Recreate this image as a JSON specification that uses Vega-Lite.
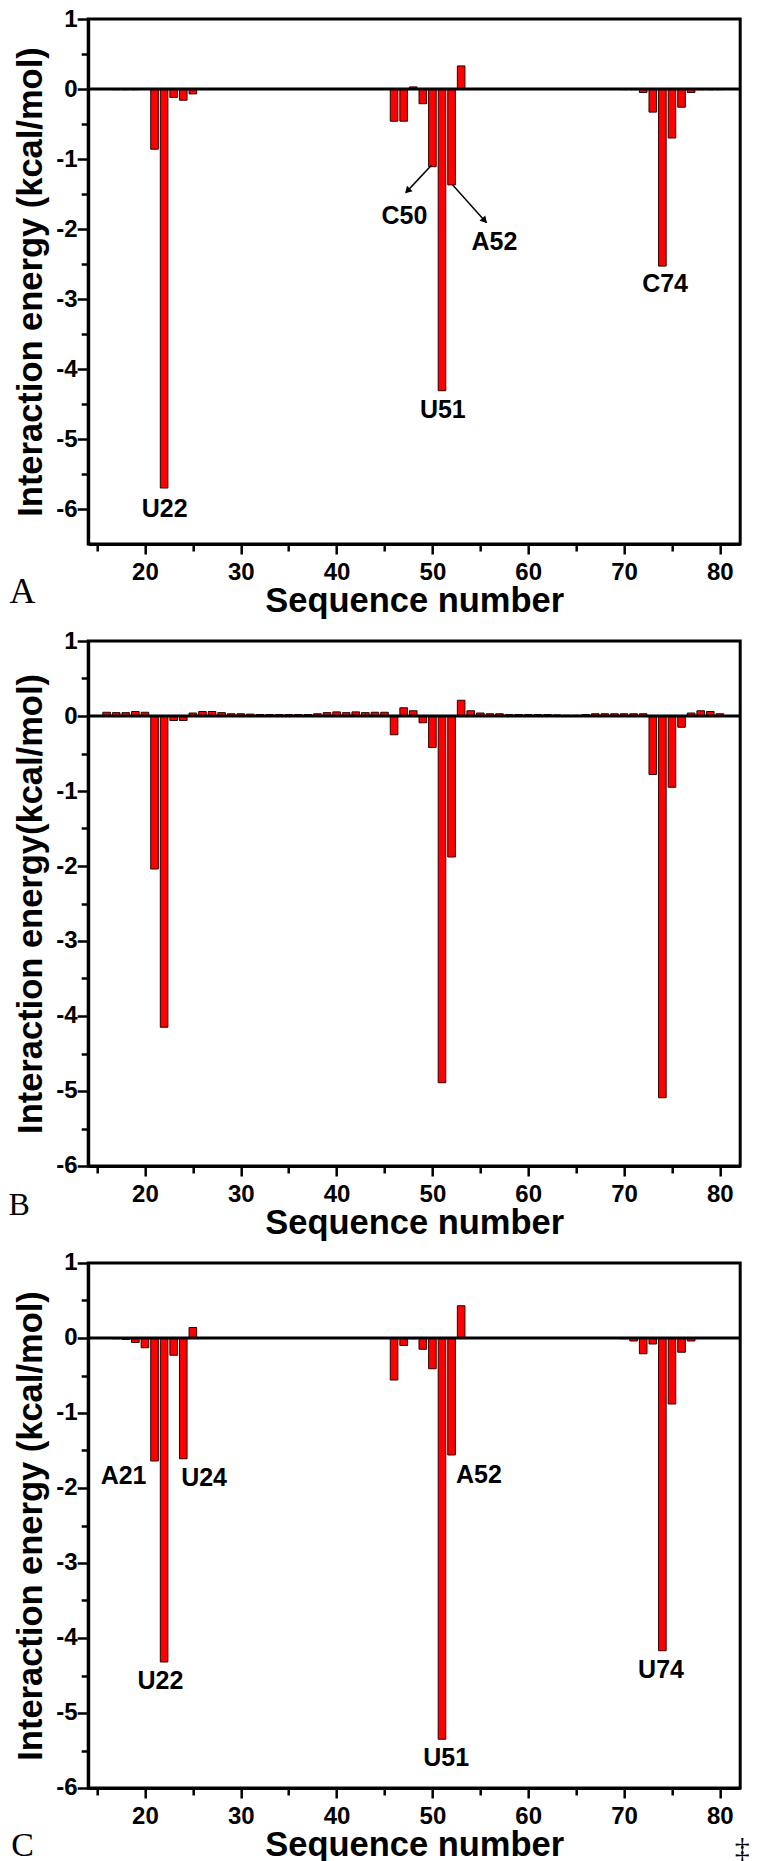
{
  "$schema": "https://vega.github.io/schema/vega-lite/v6.json",
  "background": "white",
  "padding": {"left": 6.2, "top": 5, "right": 5, "bottom": 5},
  "spacing": 7,
  "config": {
    "view": {"stroke": "black", "strokeWidth": 3},
    "axis": {
      "domainColor": "black", "domainWidth": 3,
      "tickColor": "black", "tickWidth": 2.5,
      "labelFont": "Liberation Sans", "labelFontWeight": "bold", "labelFontSize": 24, "labelColor": "black",
      "titleFont": "Liberation Sans", "titleFontWeight": "bold", "titleFontSize": 34.5, "titleColor": "black",
      "grid": false, "labelOverlap": false, "labelFlush": false, "labelBound": false
    }
  },
  "datasets": {
    "barsA": [
      {"seq": 17, "energy": -0.01}, {"seq": 18, "energy": -0.01}, {"seq": 19, "energy": -0.01},
      {"seq": 21, "energy": -0.86}, {"seq": 22, "energy": -5.70}, {"seq": 23, "energy": -0.12},
      {"seq": 24, "energy": -0.16}, {"seq": 25, "energy": -0.07},
      {"seq": 46, "energy": -0.46}, {"seq": 47, "energy": -0.46}, {"seq": 48, "energy": 0.03},
      {"seq": 49, "energy": -0.21}, {"seq": 50, "energy": -1.11}, {"seq": 51, "energy": -4.31},
      {"seq": 52, "energy": -1.37}, {"seq": 53, "energy": 0.33},
      {"seq": 70, "energy": -0.01}, {"seq": 71, "energy": -0.01}, {"seq": 72, "energy": -0.05},
      {"seq": 73, "energy": -0.33}, {"seq": 74, "energy": -2.53}, {"seq": 75, "energy": -0.70},
      {"seq": 76, "energy": -0.26}, {"seq": 77, "energy": -0.05}, {"seq": 78, "energy": -0.01},
      {"seq": 79, "energy": -0.01}, {"seq": 80, "energy": -0.01}
    ],
    "barsB": [
      {"seq": 16, "energy": 0.05}, {"seq": 17, "energy": 0.045}, {"seq": 18, "energy": 0.045},
      {"seq": 19, "energy": 0.06}, {"seq": 20, "energy": 0.05}, {"seq": 21, "energy": -2.04},
      {"seq": 22, "energy": -4.15}, {"seq": 23, "energy": -0.06}, {"seq": 24, "energy": -0.06},
      {"seq": 25, "energy": 0.04}, {"seq": 26, "energy": 0.06}, {"seq": 27, "energy": 0.06},
      {"seq": 28, "energy": 0.045}, {"seq": 29, "energy": 0.03}, {"seq": 30, "energy": 0.03},
      {"seq": 31, "energy": 0.025}, {"seq": 32, "energy": 0.02}, {"seq": 33, "energy": 0.02},
      {"seq": 34, "energy": 0.02}, {"seq": 35, "energy": 0.02}, {"seq": 36, "energy": 0.02},
      {"seq": 37, "energy": 0.02}, {"seq": 38, "energy": 0.03}, {"seq": 39, "energy": 0.045},
      {"seq": 40, "energy": 0.055}, {"seq": 41, "energy": 0.045}, {"seq": 42, "energy": 0.055},
      {"seq": 43, "energy": 0.045}, {"seq": 44, "energy": 0.05}, {"seq": 45, "energy": 0.05},
      {"seq": 46, "energy": -0.25}, {"seq": 47, "energy": 0.11}, {"seq": 48, "energy": 0.07},
      {"seq": 49, "energy": -0.09}, {"seq": 50, "energy": -0.42}, {"seq": 51, "energy": -4.89},
      {"seq": 52, "energy": -1.88}, {"seq": 53, "energy": 0.21}, {"seq": 54, "energy": 0.07},
      {"seq": 55, "energy": 0.04}, {"seq": 56, "energy": 0.03}, {"seq": 57, "energy": 0.03},
      {"seq": 58, "energy": 0.02}, {"seq": 59, "energy": 0.02}, {"seq": 60, "energy": 0.02},
      {"seq": 61, "energy": 0.02}, {"seq": 62, "energy": 0.02}, {"seq": 63, "energy": 0.015},
      {"seq": 64, "energy": 0.01}, {"seq": 65, "energy": 0.01}, {"seq": 66, "energy": 0.02},
      {"seq": 67, "energy": 0.03}, {"seq": 68, "energy": 0.03}, {"seq": 69, "energy": 0.03},
      {"seq": 70, "energy": 0.03}, {"seq": 71, "energy": 0.03}, {"seq": 72, "energy": 0.03},
      {"seq": 73, "energy": -0.78}, {"seq": 74, "energy": -5.09}, {"seq": 75, "energy": -0.95},
      {"seq": 76, "energy": -0.15}, {"seq": 77, "energy": 0.04}, {"seq": 78, "energy": 0.07},
      {"seq": 79, "energy": 0.06}, {"seq": 80, "energy": 0.03}
    ],
    "barsC": [
      {"seq": 17, "energy": -0.01}, {"seq": 18, "energy": -0.02}, {"seq": 19, "energy": -0.06},
      {"seq": 20, "energy": -0.13}, {"seq": 21, "energy": -1.64}, {"seq": 22, "energy": -4.32},
      {"seq": 23, "energy": -0.23}, {"seq": 24, "energy": -1.61}, {"seq": 25, "energy": 0.14},
      {"seq": 46, "energy": -0.56}, {"seq": 47, "energy": -0.10}, {"seq": 48, "energy": -0.01},
      {"seq": 49, "energy": -0.15}, {"seq": 50, "energy": -0.41}, {"seq": 51, "energy": -5.35},
      {"seq": 52, "energy": -1.56}, {"seq": 53, "energy": 0.43},
      {"seq": 70, "energy": -0.01}, {"seq": 71, "energy": -0.04}, {"seq": 72, "energy": -0.21},
      {"seq": 73, "energy": -0.08}, {"seq": 74, "energy": -4.17}, {"seq": 75, "energy": -0.88},
      {"seq": 76, "energy": -0.19}, {"seq": 77, "energy": -0.04}
    ],
    "labelsA": [
      {"seq": 22.06, "energy": -6.0, "label": "U22"},
      {"seq": 47.08, "energy": -1.81, "label": "C50"},
      {"seq": 56.47, "energy": -2.19, "label": "A52"},
      {"seq": 51.09, "energy": -4.59, "label": "U51"},
      {"seq": 74.28, "energy": -2.79, "label": "C74"}
    ],
    "labelsC": [
      {"seq": 17.77, "energy": -1.84, "label": "A21"},
      {"seq": 26.17, "energy": -1.87, "label": "U24"},
      {"seq": 21.61, "energy": -4.57, "label": "U22"},
      {"seq": 54.86, "energy": -1.83, "label": "A52"},
      {"seq": 51.44, "energy": -5.60, "label": "U51"},
      {"seq": 73.86, "energy": -4.43, "label": "U74"}
    ],
    "arrowsA": [
      {"seq": 49.9, "energy": -1.09, "seq2": 47.23, "energy2": -1.48},
      {"seq": 52.12, "energy": -1.37, "seq2": 55.65, "energy2": -1.91}
    ]
  },
  "vconcat": [
    {
      "width": 652, "height": 525,
      "resolve": {"axis": {"x": "independent", "y": "independent"}},
      "layer": [
        {
          "data": {"name": "barsA"},
          "mark": {"type": "bar", "size": 7.6, "fill": "#ff0000", "stroke": "#2a0000", "strokeWidth": 1},
          "encoding": {
            "x": {"field": "seq", "type": "quantitative",
              "scale": {"domain": [14.6, 81.6], "nice": false, "zero": false},
              "axis": {"title": "Sequence number", "values": [20,30,40,50,60,70,80],
                "labelExpr": "'' + datum.value", "tickSize": 10, "labelPadding": 6.2, "titlePadding": 0.3}},
            "y": {"field": "energy", "type": "quantitative",
              "scale": {"domain": [-6.5, 1], "nice": false},
              "axis": {"title": "Interaction energy (kcal/mol)", "values": [-6,-5,-4,-3,-2,-1,0,1],
                "labelExpr": "'' + datum.value", "tickSize": 11, "labelPadding": 0, "titlePadding": 7.5}}
          }
        },
        {
          "data": {"name": "barsA"},
          "mark": {"type": "point", "opacity": 0},
          "encoding": {
            "x": {"field": "seq", "type": "quantitative",
              "axis": {"orient": "bottom", "values": [15,25,35,45,55,65,75], "tickSize": 7, "labels": false, "domain": false, "title": null}},
            "y": {"field": "energy", "type": "quantitative",
              "axis": {"orient": "left", "values": [-5.5,-4.5,-3.5,-2.5,-1.5,-0.5,0.5], "tickSize": 7, "labels": false, "domain": false, "title": null}}
          }
        },
        {
          "data": {"values": [{"z": 0}]},
          "mark": {"type": "rule", "color": "black", "strokeWidth": 3},
          "encoding": {"y": {"field": "z", "type": "quantitative", "axis": null}}
        },
        {
          "data": {"name": "arrowsA"},
          "mark": {"type": "rule", "color": "black", "strokeWidth": 1.5},
          "encoding": {
            "x": {"field": "seq", "type": "quantitative", "axis": null},
            "y": {"field": "energy", "type": "quantitative", "axis": null},
            "x2": {"field": "seq2"}, "y2": {"field": "energy2"}
          }
        },
        {
          "data": {"values": [{"seq": 47.4, "energy": -1.455}]},
          "mark": {"type": "point", "shape": "triangle-up", "angle": 224, "filled": true, "color": "black", "size": 60, "opacity": 1},
          "encoding": {
            "x": {"field": "seq", "type": "quantitative", "axis": null},
            "y": {"field": "energy", "type": "quantitative", "axis": null}
          }
        },
        {
          "data": {"values": [{"seq": 55.45, "energy": -1.88}]},
          "mark": {"type": "point", "shape": "triangle-up", "angle": 138, "filled": true, "color": "black", "size": 60, "opacity": 1},
          "encoding": {
            "x": {"field": "seq", "type": "quantitative", "axis": null},
            "y": {"field": "energy", "type": "quantitative", "axis": null}
          }
        },
        {
          "data": {"name": "labelsA"},
          "mark": {"type": "text", "font": "Liberation Sans", "fontWeight": "bold", "fontSize": 25, "color": "black", "align": "center", "baseline": "middle"},
          "encoding": {
            "x": {"field": "seq", "type": "quantitative", "axis": null},
            "y": {"field": "energy", "type": "quantitative", "axis": null},
            "text": {"field": "label"}
          }
        },
        {
          "data": {"values": [{"seq": 7.21, "energy": -7.34, "label": "A"}]},
          "mark": {"type": "text", "font": "Liberation Serif", "fontSize": 36, "color": "black", "align": "center", "baseline": "alphabetic"},
          "encoding": {
            "x": {"field": "seq", "type": "quantitative", "axis": null},
            "y": {"field": "energy", "type": "quantitative", "axis": null},
            "text": {"field": "label"}
          }
        }
      ]
    },
    {
      "width": 652, "height": 525,
      "resolve": {"axis": {"x": "independent", "y": "independent"}},
      "layer": [
        {
          "data": {"name": "barsB"},
          "mark": {"type": "bar", "size": 7.6, "fill": "#ff0000", "stroke": "#2a0000", "strokeWidth": 1},
          "encoding": {
            "x": {"field": "seq", "type": "quantitative",
              "scale": {"domain": [14.6, 81.6], "nice": false, "zero": false},
              "axis": {"title": "Sequence number", "values": [20,30,40,50,60,70,80],
                "labelExpr": "'' + datum.value", "tickSize": 10, "labelPadding": 6.2, "titlePadding": 0.3}},
            "y": {"field": "energy", "type": "quantitative",
              "scale": {"domain": [-6, 1], "nice": false},
              "axis": {"title": "Interaction energy(kcal/mol)", "values": [-6,-5,-4,-3,-2,-1,0,1],
                "labelExpr": "'' + datum.value", "tickSize": 11, "labelPadding": 0, "titlePadding": 7.5}}
          }
        },
        {
          "data": {"name": "barsB"},
          "mark": {"type": "point", "opacity": 0},
          "encoding": {
            "x": {"field": "seq", "type": "quantitative",
              "axis": {"orient": "bottom", "values": [15,25,35,45,55,65,75], "tickSize": 7, "labels": false, "domain": false, "title": null}},
            "y": {"field": "energy", "type": "quantitative",
              "axis": {"orient": "left", "values": [-5.5,-4.5,-3.5,-2.5,-1.5,-0.5,0.5], "tickSize": 7, "labels": false, "domain": false, "title": null}}
          }
        },
        {
          "data": {"values": [{"z": 0}]},
          "mark": {"type": "rule", "color": "black", "strokeWidth": 3},
          "encoding": {"y": {"field": "z", "type": "quantitative", "axis": null}}
        },
        {
          "data": {"values": [{"seq": 6.87, "energy": -6.65, "label": "B"}]},
          "mark": {"type": "text", "font": "Liberation Serif", "fontSize": 32, "color": "black", "align": "center", "baseline": "alphabetic"},
          "encoding": {
            "x": {"field": "seq", "type": "quantitative", "axis": null},
            "y": {"field": "energy", "type": "quantitative", "axis": null},
            "text": {"field": "label"}
          }
        }
      ]
    },
    {
      "width": 652, "height": 525,
      "resolve": {"axis": {"x": "independent", "y": "independent"}},
      "layer": [
        {
          "data": {"name": "barsC"},
          "mark": {"type": "bar", "size": 7.6, "fill": "#ff0000", "stroke": "#2a0000", "strokeWidth": 1},
          "encoding": {
            "x": {"field": "seq", "type": "quantitative",
              "scale": {"domain": [14.6, 81.6], "nice": false, "zero": false},
              "axis": {"title": "Sequence number", "values": [20,30,40,50,60,70,80],
                "labelExpr": "'' + datum.value", "tickSize": 10, "labelPadding": 6.2, "titlePadding": 0.3}},
            "y": {"field": "energy", "type": "quantitative",
              "scale": {"domain": [-6, 1], "nice": false},
              "axis": {"title": "Interaction energy (kcal/mol)", "values": [-6,-5,-4,-3,-2,-1,0,1],
                "labelExpr": "'' + datum.value", "tickSize": 11, "labelPadding": 0, "titlePadding": 7.5}}
          }
        },
        {
          "data": {"name": "barsC"},
          "mark": {"type": "point", "opacity": 0},
          "encoding": {
            "x": {"field": "seq", "type": "quantitative",
              "axis": {"orient": "bottom", "values": [15,25,35,45,55,65,75], "tickSize": 7, "labels": false, "domain": false, "title": null}},
            "y": {"field": "energy", "type": "quantitative",
              "axis": {"orient": "left", "values": [-5.5,-4.5,-3.5,-2.5,-1.5,-0.5,0.5], "tickSize": 7, "labels": false, "domain": false, "title": null}}
          }
        },
        {
          "data": {"values": [{"z": 0}]},
          "mark": {"type": "rule", "color": "black", "strokeWidth": 3},
          "encoding": {"y": {"field": "z", "type": "quantitative", "axis": null}}
        },
        {
          "data": {"name": "labelsC"},
          "mark": {"type": "text", "font": "Liberation Sans", "fontWeight": "bold", "fontSize": 25, "color": "black", "align": "center", "baseline": "middle"},
          "encoding": {
            "x": {"field": "seq", "type": "quantitative", "axis": null},
            "y": {"field": "energy", "type": "quantitative", "axis": null},
            "text": {"field": "label"}
          }
        },
        {
          "data": {"values": [{"seq": 7.23, "energy": -6.91, "label": "C"}, {"seq": 82.35, "energy": -6.93, "label": "‡"}]},
          "mark": {"type": "text", "font": "Liberation Serif", "color": "black", "align": "center", "baseline": "alphabetic"},
          "encoding": {
            "x": {"field": "seq", "type": "quantitative", "axis": null},
            "y": {"field": "energy", "type": "quantitative", "axis": null},
            "text": {"field": "label"},
            "size": {"condition": {"test": "datum.label === '‡'", "value": 30}, "value": 34}
          }
        }
      ]
    }
  ]
}
